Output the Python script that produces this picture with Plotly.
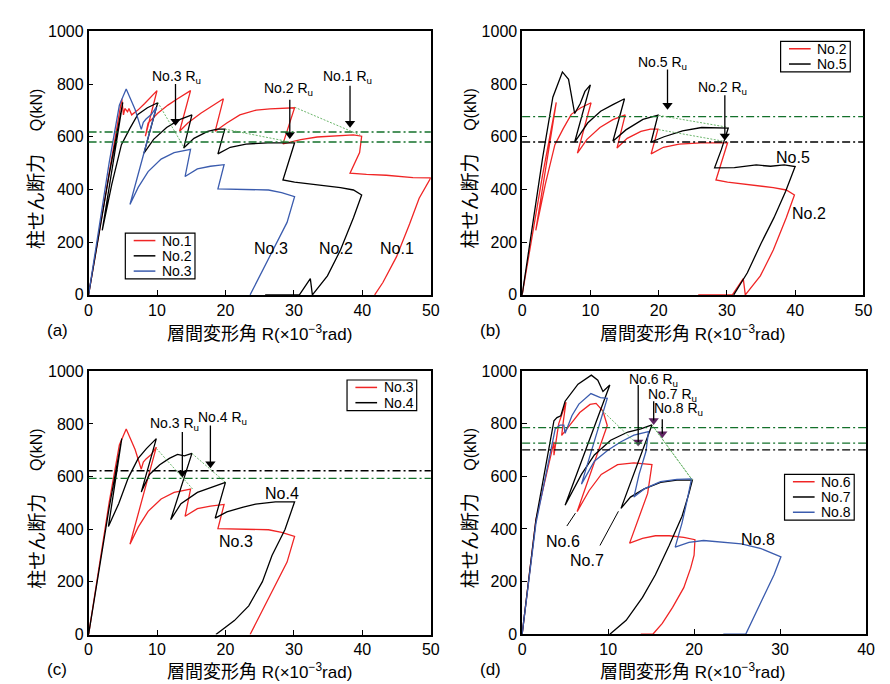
import plotly.graph_objects as go

W, H = 890, 684

# ---------------- data (R in 1e-3 rad, Q in kN) ----------------
NO1_R = [0, 1.5, 3, 4.2, 4.85, 5.1, 5.3, 5.7, 5.9, 6.3, 7.2, 8.2, 9.2, 10.0, 8.3, 8.7, 10.1, 11.6, 13.0, 14.9,
         13.3, 14.5, 16.4, 18.3, 19.7, 18.5, 20.2, 22.1, 24.5, 26.5, 28.5, 30.1, 28.4, 31, 33.4, 35.8, 38.7, 39.9,
         39.6, 38.2, 40.6, 43.5, 47.4, 50, 48.3, 46.9, 45, 43, 41.8]
NO1_Q = [0, 230, 460, 640, 744, 683, 707, 695, 707, 683, 701, 726, 751, 775, 602, 652, 689, 720, 744, 775,
         621, 652, 689, 720, 744, 621, 652, 683, 701, 706, 708, 710, 573, 589, 599, 602, 607, 602,
         540, 462, 457, 454, 445, 444, 367, 269, 145, 47, 0]

NO2_R = [0, 1.5, 3, 5.0, 2.0, 3.4, 4.8, 6.0, 7.2, 8.6, 10.1, 8.1, 9.5, 11.4, 13.3, 15.1, 13.9, 15.4, 17.4, 18.8,
         19.9, 18.9, 20.7, 23.0, 26.2, 30.1, 29.1, 28.4, 30.1, 33.4, 36.8, 38.7, 39.9, 38.7, 36.8, 34.9, 32.7,
         32.4, 30.8, 25.8]
NO2_Q = [0, 225, 455, 730, 245, 420, 570, 630, 685, 710, 729, 538, 590, 635, 665, 683, 557, 594, 620, 629,
         629, 535, 560, 572, 577, 577, 491, 436, 428, 419, 407, 398, 379, 293, 170, 72, 0,
         62, 0, 0]

NO3_R = [0, 1.5, 3, 4.5, 5.5, 6.8, 7.7, 8.0, 8.4, 9.2, 9.9, 6.05, 7.25, 8.7, 10.6, 12.5, 14.9, 14.1, 15.9, 17.8,
         19.8, 18.9, 22.5, 26.3, 28.2, 30.1, 29.0, 27.3, 25.4, 23.6]
NO3_Q = [0, 250, 500, 720, 781, 703, 628, 655, 667, 685, 712, 343, 408, 468, 515, 540, 552, 449, 478, 488,
         494, 402, 400, 398, 388, 373, 275, 189, 90, 0]

NO4_R = [0, 1.5, 3, 4.85, 2.9, 4.4, 5.8, 7.25, 8.45, 9.9, 7.7, 8.9, 10.4, 11.8, 13.0, 14.0, 15.1, 12.0, 13.5,
         15.9, 18.3, 20.0, 18.5, 20.2, 22.6, 24.4, 27.3, 30.1, 28.7, 26.8, 25.4, 23.4, 21.3, 18.6]
NO4_Q = [0, 240, 480, 744, 410, 497, 595, 669, 706, 744, 541, 608, 645, 669, 684, 679, 688, 436, 497,
         540, 564, 578, 442, 466, 484, 495, 504, 504, 399, 300, 201, 109, 53, 0]

NO5_R = [0, 1.5, 3, 4.5, 5.9, 6.8, 7.7, 8.5, 9.2, 10.0, 7.7, 9.6, 11.5, 13.3, 15.0, 13.3, 15.2, 17.7, 19.9,
         18.9, 20.8, 23.5, 26.3, 30.2, 29.2, 28.2, 31.1, 34.3, 36.4, 38.4, 40.0, 38.6, 36.9, 35.0, 33.0, 31.0]
NO5_Q = [0, 260, 520, 750, 846, 818, 688, 725, 772, 797, 580, 652, 697, 722, 744, 583, 626, 666, 682,
         580, 600, 622, 635, 633, 552, 482, 483, 493, 488, 493, 487, 392, 293, 195, 84, 0]

NO6_R = [0, 1.6, 3.7, 3.7, 4.25, 4.6, 5.1, 4.8, 4.6, 5.8, 6.7, 7.9, 8.6, 9.4, 9.9, 6.4, 7.8, 9.2, 11.1, 13.0,
         15.1, 14.6, 13.6, 12.5, 14.0, 15.5, 17.1, 18.8, 20.1, 20.0, 19.6, 18.8, 17.5, 16.3, 15.2, 13.8]
NO6_Q = [0, 434, 731, 680, 799, 830, 881, 811, 755, 805, 842, 873, 877, 848, 793, 466, 546, 607, 644, 651,
         644, 535, 448, 346, 364, 374, 374, 368, 359, 300, 251, 177, 102, 41, 0, 0]

NO7_R = [0, 1.6, 3.7, 4.05, 4.5, 4.8, 5.0, 6.5, 8.05, 8.8, 9.4, 9.8, 10.2, 5.0, 6.9, 8.4, 10.3, 12.3, 13.8,
         15.1, 11.5, 12.6, 14.2, 16.1, 18.0, 19.8, 19.4, 18.6, 17.1, 15.5, 14.0, 12.1, 10.2]
NO7_Q = [0, 434, 811, 823, 830, 867, 885, 950, 984, 965, 922, 934, 947, 490, 607, 681, 737, 768, 780,
         795, 478, 521, 552, 577, 585, 585, 535, 448, 337, 226, 140, 53, 0]

NO8_R = [0, 1.6, 3.85, 4.4, 4.85, 5.0, 5.8, 6.6, 8.0, 9.1, 9.9, 6.9, 8.4, 10.0, 11.5, 13.0, 14.7, 14.4, 13.6,
         13.0, 14.2, 16.1, 18.0, 19.7, 19.2, 18.6, 17.8, 19.4, 21.1, 23.2, 25.5, 27.8, 30.1, 29.3, 28.2, 27.0,
         26.0, 23.4]
NO8_Q = [0, 420, 780, 794, 794, 763, 831, 874, 914, 899, 896, 570, 657, 700, 731, 756, 770, 694, 607,
         521, 552, 580, 588, 590, 510, 423, 331, 349, 356, 349, 343, 325, 294, 226, 152, 65,
         0, 0]

# reference (dash-dot) levels per panel
HLINES_A = [618, 580]
HLINES_B = [676, 580]
HLINES_C = [622, 593]
HLINES_D = [785, 726, 700]

# thin green dotted degradation lines [(R1, Q1, R2, Q2)]
GLINES_A = [(10.1, 731, 14.0, 557), (19.9, 629, 29.5, 580), (30.1, 712, 39.7, 606)]
GLINES_B = [(20.0, 681, 30.1, 636), (20.0, 627, 29.5, 583)]
GLINES_C = [(9.9, 707, 15.2, 553), (15.1, 688, 20.0, 578)]
GLINES_D = [(9.3, 850, 13.7, 712), (15.1, 795, 19.8, 585), (15.4, 782, 19.7, 590)]

# R_u markers: (label, text R, text Q, arrow R, tail Q, head Q)
RU_A = [("No.3", 12.8, 826, 12.7, 800, 640), ("No.2", 29.2, 781, 29.4, 740, 590), ("No.1", 37.9, 826, 38.2, 793, 633)]
RU_B = [("No.5", 20.5, 880, 21.3, 855, 701), ("No.2", 29.4, 785, 29.7, 757, 584)]
RU_C = [("No.3", 12.6, 800, 13.7, 769, 595), ("No.4", 19.6, 824, 17.8, 794, 630)]
RU_D = [("No.6", 15.3, 966, 13.5, 947, 712), ("No.7", 17.5, 910, 15.3, 885, 793), ("No.8", 18.2, 854, 16.3, 817, 743)]

# curve labels inside plots
LAB_A = [("No.3", 26.7, 176), ("No.2", 36.2, 176), ("No.1", 45.0, 176)]
LAB_B = [("No.5", 39.7, 522), ("No.2", 42.1, 309)]
LAB_C = [("No.4", 28.3, 534), ("No.3", 21.5, 352)]
LAB_D = [("No.6", 4.8, 354), ("No.7", 7.5, 280), ("No.8", 27.4, 360)]
LEADERS_D = [(5.2, 411, 6.2, 460), (9.05, 337, 11.2, 467)]

XTICKS_50 = [0, 10, 20, 30, 40, 50]
XTICKS_40 = [0, 10, 20, 30, 40]
YTICKS = [0, 200, 400, 600, 800, 1000]

RED = "#f02525"
BLUE = "#3b5cae"
BLACK = "#000000"
DKGREEN = "#13702a"
LTGREEN = "#5cae5c"
PURPLE = "#5e2461"
FONT = "Liberation Sans, Arial, Noto Sans CJK JP, sans-serif"

# legends: entries
LEG_A = [("No.1", RED), ("No.2", BLACK), ("No.3", BLUE)]
LEG_B = [("No.2", RED), ("No.5", BLACK)]
LEG_C = [("No.3", RED), ("No.4", BLACK)]
LEG_D = [("No.6", RED), ("No.7", BLACK), ("No.8", BLUE)]

fig = go.Figure()

PANELS = {
    "a": dict(ax="", box=(77.7, 425.0, 15.7, 286.0), xmax=50, xt=XTICKS_50, leg=LEG_A, legpos=(115, 222.7)),
    "b": dict(ax="2", box=(517.7, 864.0, 15.7, 286.0), xmax=50, xt=XTICKS_50, leg=LEG_B, legpos=(780, 26)),
    "c": dict(ax="3", box=(77.7, 425.0, 364.3, 634.3), xmax=50, xt=XTICKS_50, leg=LEG_C, legpos=(340, 373.3)),
    "d": dict(ax="4", box=(517.7, 866.7, 364.0, 634.0), xmax=40, xt=XTICKS_40, leg=LEG_D, legpos=(784, 470)),
}

def add_curve(panel, name, xs, ys, color):
    ax = PANELS[panel]["ax"]
    fig.add_trace(go.Scatter(x=xs, y=ys, mode="lines", name=name, showlegend=False,
                             line=dict(color=color, width=1.3),
                             xaxis="x" + ax, yaxis="y" + ax))

add_curve("a", "No.1", NO1_R, NO1_Q, RED)
add_curve("a", "No.2", NO2_R, NO2_Q, BLACK)
add_curve("a", "No.3", NO3_R, NO3_Q, BLUE)
add_curve("b", "No.2", NO2_R, NO2_Q, RED)
add_curve("b", "No.5", NO5_R, NO5_Q, BLACK)
add_curve("c", "No.3", NO3_R, NO3_Q, RED)
add_curve("c", "No.4", NO4_R, NO4_Q, BLACK)
add_curve("d", "No.6", NO6_R, NO6_Q, RED)
add_curve("d", "No.7", NO7_R, NO7_Q, BLACK)
add_curve("d", "No.8", NO8_R, NO8_Q, BLUE)

def px(xp):
    return xp / W

def py(yp):
    return 1 - yp / H

shapes = []
annotations = []

HCOL = {
    "a": [DKGREEN, DKGREEN],
    "b": [DKGREEN, BLACK],
    "c": [BLACK, DKGREEN],
    "d": [DKGREEN, DKGREEN, BLACK],
}
HL = {"a": HLINES_A, "b": HLINES_B, "c": HLINES_C, "d": HLINES_D}
GL = {"a": GLINES_A, "b": GLINES_B, "c": GLINES_C, "d": GLINES_D}
RU = {"a": RU_A, "b": RU_B, "c": RU_C, "d": RU_D}
LAB = {"a": LAB_A, "b": LAB_B, "c": LAB_C, "d": LAB_D}

for p, cfg in PANELS.items():
    ax = cfg["ax"]
    xr, yr = "x" + ax, "y" + ax
    qpp = 1000.0 / (cfg["box"][3] - cfg["box"][2])  # kN per pixel
    for lvl, col in zip(HL[p], HCOL[p]):
        shapes.append(dict(type="line", xref=xr + " domain", yref=yr, x0=0, x1=1, y0=lvl, y1=lvl,
                           line=dict(color=col, width=1.3, dash="8px,3px,2px,3px"), layer="above"))
    for (r1, q1, r2, q2) in GL[p]:
        shapes.append(dict(type="line", xref=xr, yref=yr, x0=r1, y0=q1, x1=r2, y1=q2,
                           line=dict(color=LTGREEN, width=0.9, dash="2px,1.5px"), layer="above"))
    head_x, head_y = [], []
    for (lab, tx, tq, ar, tail, head) in RU[p]:
        annotations.append(dict(x=tx, y=tq, xref=xr, yref=yr, text=lab + " R<sub>u</sub>",
                                xanchor="center", yanchor="middle",
                                showarrow=False, font=dict(size=14, color="black", family=FONT)))
        hc = head + 5 * qpp
        shapes.append(dict(type="line", xref=xr, yref=yr, x0=ar, x1=ar, y0=tail, y1=hc,
                           line=dict(color="black", width=1.3), layer="above"))
        head_x.append(ar)
        head_y.append(hc)
    fig.add_trace(go.Scatter(x=head_x, y=head_y, mode="markers", showlegend=False, hoverinfo="skip",
                             marker=dict(symbol="triangle-down", size=9,
                                         color=PURPLE if p == "d" else "black",
                                         line=dict(width=0)),
                             xaxis="x" + ax, yaxis="y" + ax))
    for (lab, tx, tq) in LAB[p]:
        annotations.append(dict(x=tx, y=tq, xref=xr, yref=yr, text=lab, showarrow=False,
                                xanchor="center", yanchor="middle",
                                font=dict(size=16, color="black", family=FONT)))
    # legend box
    lx, ly = cfg["legpos"]
    n = len(cfg["leg"])
    rowh = 15.65
    shapes.append(dict(type="rect", xref="paper", yref="paper", x0=px(lx), x1=px(lx + 70.7),
                       y0=py(ly + rowh * n), y1=py(ly), line=dict(color="black", width=1.2),
                       fillcolor="white", layer="above"))
    for i, (name, col) in enumerate(cfg["leg"]):
        yy = ly + 7.6 + rowh * i
        shapes.append(dict(type="line", xref="paper", yref="paper", x0=px(lx + 8.5), x1=px(lx + 30.5),
                           y0=py(yy), y1=py(yy), line=dict(color=col, width=1.5), layer="above"))
        annotations.append(dict(x=px(lx + 35), y=py(yy), xref="paper", yref="paper", text=name,
                                xanchor="left", yanchor="middle", showarrow=False,
                                font=dict(size=14, color="black", family=FONT)))

for (r1, q1, r2, q2) in LEADERS_D:
    shapes.append(dict(type="line", xref="x4", yref="y4", x0=r1, y0=q1, x1=r2, y1=q2,
                       line=dict(color="black", width=1)))

# axis titles (y title split into its Japanese and unit parts)
YTITLE_JP = "柱せん断力"
YTITLE_UNIT = "Q(kN)"
XTITLE = "<span style='font-size:18px'>層間変形角</span> R(×10<sup>−3</sup>rad)"
for (xc, yc) in [(25, 158), (465, 158), (25, 506.5), (465, 506.5)]:
    annotations.append(dict(x=px(xc), y=py(yc + 32), xref="paper", yref="paper", text=YTITLE_JP,
                            textangle=-90, xanchor="center", yanchor="middle",
                            showarrow=False, font=dict(size=19, color="black", family=FONT)))
    annotations.append(dict(x=px(xc), y=py(yc - 62), xref="paper", yref="paper", text=YTITLE_UNIT,
                            textangle=-90, xanchor="center", yanchor="middle",
                            showarrow=False, font=dict(size=16, color="black", family=FONT)))
for (xc, yc) in [(251, 325), (691, 325), (251, 672), (691, 672)]:
    annotations.append(dict(x=px(xc), y=py(yc), xref="paper", yref="paper", text=XTITLE,
                            xanchor="center", yanchor="middle",
                            showarrow=False, font=dict(size=17, color="black", family=FONT)))
for (lab, xc, yc) in [("(a)", 46, 323), ("(b)", 486, 323), ("(c)", 46, 670), ("(d)", 486, 670)]:
    annotations.append(dict(x=px(xc), y=py(yc), xref="paper", yref="paper", text=lab,
                            xanchor="center", yanchor="middle",
                            showarrow=False, font=dict(size=17, color="black", family=FONT)))

layout = dict(width=W, height=H, margin=dict(l=0, r=0, t=0, b=0),
              paper_bgcolor="white", plot_bgcolor="white", showlegend=False,
              font=dict(family=FONT, size=16, color="black"),
              shapes=shapes, annotations=annotations)

for p, cfg in PANELS.items():
    ax = cfg["ax"]
    l, r, t, b = cfg["box"]
    common = dict(showline=True, linecolor="black", linewidth=1.5, mirror=True, ticks="inside",
                  ticklen=5, tickcolor="black", showgrid=False, zeroline=False,
                  tickfont=dict(size=16, family=FONT, color="black"))
    layout["xaxis" + ax] = dict(domain=[px(l), px(r)], range=[0, cfg["xmax"]], tickvals=cfg["xt"],
                                anchor="y" + ax, **common)
    layout["yaxis" + ax] = dict(domain=[py(b), py(t)], range=[0, 1000], tickvals=YTICKS,
                                anchor="x" + ax, **common)

fig.update_layout(**layout)
fig.write_html("out.html")
